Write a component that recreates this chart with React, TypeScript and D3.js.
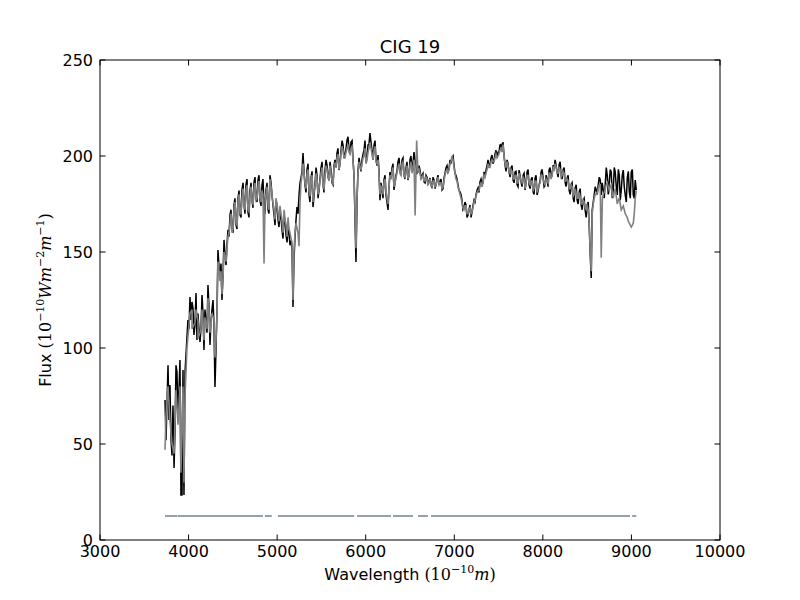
import * as d3 from "d3";

// observed spectrum (black): [wavelength, flux]
const observed: [number, number][] = [
  [3734, 72.9], [3745, 52], [3768, 91], [3779, 62.5], [3790, 80.7], [3802, 52],
  [3813, 44], [3824, 70], [3836, 37.5], [3847, 57], [3858, 91], [3869, 87.5],
  [3881, 62.5], [3903, 93.8], [3914, 23.4], [3926, 23.4], [3937, 88.5], [3948, 23.4],
  [3960, 87.5], [3982, 105.7], [3993, 114.6], [4016, 126.6], [4027, 114.6], [4050, 120.8],
  [4061, 106.8], [4084, 128.6], [4095, 104.2], [4118, 109.4], [4129, 103.1], [4152, 127.6],
  [4174, 99], [4197, 114.6], [4219, 132.8], [4242, 101.6], [4264, 119.8], [4276, 125],
  [4298, 79.7], [4321, 119.8], [4332, 151], [4355, 138], [4377, 125], [4400, 156.3],
  [4423, 143.2], [4445, 161.5], [4468, 169.3], [4490, 162.5], [4513, 174.5], [4536, 164],
  [4558, 178], [4581, 169.3], [4603, 182.3], [4626, 174.5], [4648, 185], [4671, 170.8],
  [4694, 182.3], [4716, 177], [4739, 186.5], [4761, 178], [4784, 187.5], [4806, 177],
  [4829, 185], [4852, 174.5], [4874, 182.3], [4897, 172], [4919, 190], [4942, 179.7],
  [4965, 169.3], [4987, 177], [5010, 166.7], [5032, 170.8], [5055, 161.5], [5078, 169.3],
  [5100, 158.9], [5123, 164], [5145, 153.6], [5168, 151], [5179, 121.4], [5190, 145.8],
  [5213, 166.7], [5224, 173.4], [5247, 179.7], [5269, 188.5], [5292, 201.6], [5314, 185],
  [5337, 192.7], [5360, 179.7], [5382, 188.5], [5405, 173.4], [5427, 185], [5450, 190],
  [5473, 182.3], [5495, 193.8], [5518, 185], [5540, 192.7], [5563, 195.3], [5586, 187.5],
  [5608, 192.7], [5631, 185], [5653, 198], [5676, 201.6], [5698, 192.7], [5721, 203],
  [5744, 205.7], [5766, 200.5], [5789, 208.3], [5811, 204], [5834, 207.3], [5857, 198],
  [5868, 190], [5890, 144.8], [5902, 177], [5913, 192.7], [5936, 195.3], [5958, 198],
  [5981, 203], [6003, 196.9], [6026, 205.7], [6048, 212], [6071, 203], [6094, 205.7],
  [6116, 198], [6139, 200.5], [6161, 177], [6184, 182.3], [6206, 187.5], [6229, 179.7],
  [6252, 171.9], [6274, 191.7], [6297, 193.8], [6319, 182.3], [6342, 190], [6364, 196.9],
  [6387, 192.7], [6410, 198], [6432, 190], [6455, 193.8], [6477, 187.5], [6500, 198],
  [6523, 192.7], [6545, 202], [6568, 195.3], [6590, 191.7], [6613, 192.7], [6636, 190],
  [6658, 186.5], [6681, 190], [6703, 185], [6726, 188.5], [6748, 183.3], [6771, 187.5],
  [6794, 185], [6816, 190], [6839, 186.5], [6861, 182.3], [6884, 188.5], [6906, 193.8],
  [6929, 191.7], [6952, 198], [6974, 199], [6997, 195.3], [7019, 190], [7042, 185],
  [7065, 181.3], [7087, 177], [7110, 172.9], [7132, 174.5], [7155, 169.3], [7178, 174.5],
  [7200, 170.8], [7223, 177], [7245, 179.7], [7268, 183.3], [7290, 186.5], [7313, 185],
  [7336, 191.7], [7358, 192.7], [7381, 198], [7403, 195.3], [7426, 200.5], [7449, 198],
  [7471, 203], [7494, 202], [7516, 205.7], [7539, 203], [7550, 207.3], [7573, 195.3],
  [7596, 198], [7618, 191.7], [7641, 193.8], [7664, 187.5], [7686, 191.7], [7709, 185],
  [7731, 192.7], [7754, 186.5], [7777, 190], [7799, 182.3], [7822, 191.7], [7844, 185],
  [7867, 187.5], [7890, 181.3], [7912, 188.5], [7935, 179.7], [7957, 185], [7980, 191.7],
  [8003, 188.5], [8025, 185], [8048, 187.5], [8070, 192.7], [8093, 188.5], [8116, 195.3],
  [8138, 198], [8161, 191.7], [8183, 195.3], [8206, 190], [8229, 192.7], [8251, 186.5],
  [8274, 188.5], [8296, 182.3], [8319, 185], [8342, 178], [8364, 183.3], [8387, 177],
  [8410, 181.3], [8432, 174.5], [8455, 177], [8477, 171.9], [8500, 174.5], [8523, 164],
  [8535, 148.4], [8546, 136.5], [8557, 171.9], [8580, 179.7], [8603, 182.3], [8625, 185],
  [8648, 187.5], [8659, 179.7], [8682, 182.3], [8704, 185], [8727, 190], [8750, 186.5],
  [8772, 191.7], [8795, 182.3], [8817, 191.7], [8840, 179.7], [8863, 190], [8885, 182.3],
  [8908, 192.7], [8930, 179.7], [8953, 188.5], [8976, 181.3], [8998, 191.7], [9021, 179.7],
  [9043, 187.5], [9055, 182.3],
];

// finer wiggles of the observed spectrum, read between the points above
const observedDetail: [number, number][] = [
  [4005, 110], [4038, 124], [4072, 112], [4106, 118], [4140, 110], [4163, 118],
  [4185, 120], [4208, 108], [4230, 122], [4253, 114], [4287, 112], [4310, 100],
  [4344, 142], [4366, 144], [4389, 138], [4411, 149], [4434, 154], [4456, 158],
  [4479, 172], [4502, 160], [4524, 178], [4547, 162], [4570, 182], [4592, 168],
  [4615, 186], [4637, 170], [4660, 188], [4682, 168], [4705, 186], [4728, 173],
  [4750, 189], [4773, 176], [4795, 190], [4818, 174], [4840, 188], [4863, 170],
  [4886, 186], [4908, 170], [4931, 186], [4954, 174], [4976, 164], [4999, 174],
  [5021, 163], [5044, 168], [5066, 157], [5089, 166], [5112, 155], [5134, 160],
  [5157, 156], [5202, 158], [5236, 170], [5258, 186], [5281, 192], [5303, 192],
  [5326, 181], [5349, 196], [5371, 176], [5394, 192], [5416, 179], [5439, 194],
  [5462, 178], [5484, 188], [5507, 197], [5529, 181], [5552, 198], [5575, 189],
  [5597, 197], [5620, 186], [5642, 195], [5665, 194], [5687, 204], [5710, 196],
  [5733, 208], [5755, 199], [5778, 204], [5800, 210], [5823, 201], [5846, 208],
  [5925, 199], [5947, 192], [5970, 201], [5992, 208], [6015, 199], [6037, 206],
  [6060, 207], [6082, 198], [6105, 208], [6128, 195], [6150, 192], [6173, 186],
  [6195, 178], [6218, 190], [6240, 176], [6263, 184], [6286, 188], [6308, 196],
  [6331, 186], [6353, 192], [6376, 199], [6398, 190], [6421, 199], [6444, 188],
  [6466, 197], [6489, 190], [6511, 200], [6534, 196], [6557, 198], [6579, 191],
  [6602, 195], [6625, 188], [6647, 191], [6670, 186], [6692, 189], [6715, 187],
  [6737, 185], [6760, 189], [6782, 183], [6805, 188], [6828, 185], [6850, 188],
  [6873, 183], [6895, 191], [6918, 195], [6940, 193], [6963, 196], [6986, 200],
  [7008, 191], [7031, 188], [7053, 182], [7076, 180], [7098, 172], [7121, 176],
  [7144, 168], [7166, 172], [7189, 168], [7211, 174], [7234, 176], [7256, 182],
  [7279, 181], [7302, 188], [7324, 186], [7347, 189], [7370, 195], [7392, 194],
  [7415, 199], [7437, 196], [7460, 201], [7483, 199], [7505, 202], [7528, 206],
  [7562, 200], [7584, 192], [7607, 196], [7630, 189], [7652, 195], [7675, 186],
  [7697, 192], [7720, 184], [7742, 190], [7765, 184], [7788, 191], [7810, 186],
  [7833, 193], [7856, 183], [7878, 189], [7901, 180], [7923, 190], [7946, 182],
  [7969, 187], [7991, 193], [8014, 184], [8037, 190], [8059, 184], [8082, 194],
  [8104, 190], [8127, 193], [8150, 195], [8172, 189], [8195, 197], [8217, 188],
  [8240, 194], [8262, 184], [8285, 190], [8308, 180], [8330, 186], [8353, 176],
  [8376, 185], [8398, 175], [8421, 183], [8444, 172], [8466, 178], [8489, 168],
  [8512, 176], [8569, 176], [8591, 184], [8614, 180], [8637, 189], [8670, 186],
  [8693, 178], [8716, 194], [8738, 180], [8761, 193], [8784, 178], [8806, 194],
  [8829, 184], [8852, 193], [8874, 177], [8897, 190], [8919, 184], [8942, 176],
  [8965, 192], [8987, 178], [9010, 193], [9032, 178],
];

// synthetic fit (gray): [wavelength, flux]
const model: [number, number][] = [
  [3734, 47], [3745, 65], [3768, 80], [3790, 62], [3813, 50], [3836, 45],
  [3858, 78], [3881, 60], [3903, 80], [3914, 35], [3926, 60], [3937, 80],
  [3948, 30], [3960, 75], [3982, 100], [4016, 118], [4039, 110], [4061, 112],
  [4084, 120], [4107, 105], [4129, 108], [4152, 120], [4174, 104], [4197, 112],
  [4219, 126], [4242, 108], [4264, 118], [4287, 115], [4298, 95], [4321, 118],
  [4332, 145], [4355, 135], [4377, 128], [4400, 150], [4423, 145], [4445, 158],
  [4468, 165], [4490, 160], [4513, 172], [4536, 165], [4558, 176], [4581, 170],
  [4603, 178], [4626, 174], [4648, 182], [4671, 172], [4694, 180], [4716, 176],
  [4739, 183], [4761, 177], [4784, 184], [4806, 178], [4829, 182], [4840, 180],
  [4852, 144], [4863, 176], [4874, 180], [4897, 174], [4919, 188], [4942, 180],
  [4965, 172], [4987, 178], [5010, 170], [5032, 174], [5055, 166], [5078, 172],
  [5100, 164], [5123, 168], [5145, 160], [5168, 155], [5179, 125], [5190, 150],
  [5213, 165], [5235, 160], [5247, 153], [5258, 175], [5269, 186], [5292, 196],
  [5314, 186], [5337, 190], [5360, 182], [5382, 188], [5405, 176], [5427, 184],
  [5450, 188], [5473, 183], [5495, 191], [5518, 184], [5540, 190], [5563, 193],
  [5586, 187], [5608, 191], [5631, 185], [5653, 196], [5676, 199], [5698, 193],
  [5721, 201], [5744, 203], [5766, 199], [5789, 204], [5811, 202], [5834, 204],
  [5857, 197], [5868, 190], [5890, 152], [5902, 178], [5913, 191], [5936, 194],
  [5958, 196], [5981, 200], [6003, 196], [6026, 202], [6048, 207], [6071, 201],
  [6094, 203], [6116, 197], [6139, 198], [6161, 180], [6184, 183], [6206, 186],
  [6229, 181], [6252, 175], [6274, 190], [6297, 192], [6319, 184], [6342, 189],
  [6364, 194], [6387, 191], [6410, 196], [6432, 190], [6455, 192], [6477, 188],
  [6500, 195], [6523, 191], [6545, 198], [6558, 169], [6575, 208], [6590, 192],
  [6613, 191], [6636, 189], [6658, 187], [6681, 189], [6703, 185], [6726, 188],
  [6748, 184], [6771, 187], [6794, 185], [6816, 189], [6839, 186], [6861, 183],
  [6884, 187], [6906, 192], [6929, 191], [6952, 196], [6974, 200], [6997, 194],
  [7019, 188], [7042, 184], [7065, 180], [7087, 176], [7110, 172], [7132, 174],
  [7155, 170], [7178, 173], [7200, 171], [7223, 176], [7245, 179], [7268, 182],
  [7290, 185], [7313, 184], [7336, 190], [7358, 191], [7381, 196], [7403, 194],
  [7426, 198], [7449, 197], [7471, 201], [7494, 200], [7516, 203], [7539, 202],
  [7550, 206], [7573, 196], [7596, 197], [7618, 192], [7641, 193], [7664, 188],
  [7686, 190], [7709, 186], [7731, 191], [7754, 187], [7777, 189], [7799, 183],
  [7822, 190], [7844, 186], [7867, 187], [7890, 182], [7912, 187], [7935, 181],
  [7957, 185], [7980, 190], [8003, 188], [8025, 185], [8048, 187], [8070, 191],
  [8093, 188], [8116, 194], [8138, 196], [8161, 191], [8183, 194], [8206, 189],
  [8229, 192], [8251, 187], [8274, 188], [8296, 183], [8319, 185], [8342, 179],
  [8364, 183], [8387, 178], [8410, 181], [8432, 175], [8455, 177], [8477, 173],
  [8500, 174], [8523, 165], [8535, 150], [8546, 140], [8557, 170], [8580, 178],
  [8603, 180], [8625, 183], [8648, 185], [8659, 147], [8672, 178], [8682, 180],
  [8704, 183], [8727, 186], [8750, 182], [8772, 185], [8795, 178], [8817, 183],
  [8840, 175], [8863, 178], [8885, 172], [8908, 174], [8930, 170], [8953, 168],
  [8976, 165], [8998, 163], [9021, 165], [9043, 178], [9055, 182],
];

// finer wiggles of the fit, read between the points above
const modelDetail: [number, number][] = [
  [4005, 112], [4038, 120], [4072, 113], [4106, 114], [4140, 110], [4163, 114],
  [4185, 116], [4208, 110], [4230, 120], [4253, 112], [4310, 104], [4344, 140],
  [4366, 140], [4389, 137], [4411, 148], [4434, 152], [4456, 160], [4479, 170],
  [4502, 162], [4524, 176], [4547, 164], [4570, 180], [4592, 170], [4615, 183],
  [4637, 172], [4660, 185], [4682, 171], [4705, 184], [4728, 175], [4750, 186],
  [4773, 178], [4795, 187], [4818, 176], [4886, 184], [4908, 172], [4931, 184],
  [4954, 175], [4976, 167], [4999, 175], [5021, 166], [5044, 170], [5066, 160],
  [5089, 167], [5112, 158], [5134, 162], [5157, 157], [5202, 160], [5281, 190],
  [5303, 191], [5326, 183], [5349, 193], [5371, 179], [5394, 190], [5416, 181],
  [5439, 191], [5462, 180], [5484, 187], [5507, 194], [5529, 183], [5552, 195],
  [5575, 189], [5597, 195], [5620, 187], [5642, 194], [5665, 195], [5687, 201],
  [5710, 196], [5733, 205], [5755, 199], [5778, 202], [5800, 206], [5823, 201],
  [5846, 205], [5925, 197], [5947, 193], [5970, 199], [5992, 204], [6015, 198],
  [6037, 204], [6060, 204], [6082, 198], [6105, 205], [6128, 196], [6150, 191],
  [6173, 184], [6195, 180], [6218, 188], [6240, 178], [6263, 184], [6286, 188],
  [6308, 194], [6331, 186], [6353, 191], [6376, 196], [6398, 190], [6421, 197],
  [6444, 189], [6466, 195], [6489, 190], [6511, 197], [6534, 194], [6602, 193],
  [6625, 188], [6647, 190], [6670, 187], [6692, 188], [6715, 186], [6737, 185],
  [6760, 187], [6782, 184], [6805, 187], [6828, 185], [6850, 186], [6873, 184],
  [6895, 190], [6918, 193], [6940, 193], [6963, 197], [6986, 198], [7008, 191],
  [7031, 187], [7053, 182], [7076, 178], [7098, 173], [7121, 174], [7144, 170],
  [7166, 172], [7189, 170], [7211, 173], [7234, 177], [7256, 181], [7279, 182],
  [7302, 186], [7324, 186], [7347, 189], [7370, 193], [7392, 194], [7415, 197],
  [7437, 197], [7460, 199], [7483, 199], [7505, 201], [7528, 204], [7562, 200],
  [7584, 194], [7607, 195], [7630, 191], [7652, 192], [7675, 188], [7697, 190],
  [7720, 186], [7742, 189], [7765, 186], [7788, 188], [7810, 186], [7833, 190],
  [7856, 185], [7878, 187], [7901, 183], [7923, 187], [7946, 183], [7969, 186],
  [7991, 190], [8014, 186], [8037, 188], [8059, 186], [8082, 191], [8104, 190],
  [8127, 193], [8150, 194], [8172, 191], [8195, 193], [8217, 190], [8240, 191],
  [8262, 187], [8285, 187], [8308, 183], [8330, 184], [8353, 180], [8376, 181],
  [8398, 178], [8421, 179], [8444, 175], [8466, 176], [8489, 172], [8512, 172],
  [8569, 175], [8591, 180], [8614, 181], [8637, 185], [8693, 181], [8716, 185],
  [8738, 184], [8761, 184], [8784, 181], [8806, 181], [8829, 179], [8852, 177],
  [8874, 175], [8897, 173], [8919, 172], [8942, 169], [8965, 166], [8987, 164],
  [9010, 164], [9032, 170],
];

// wavelength ranges used in the fit (masked lines left out)
const maskRanges: [number, number][] = [
  [3734, 3870], [3875, 4840], [4862, 4940], [5008, 5870], [5902, 6286],
  [6308, 6533], [6590, 6703], [6737, 8985], [9008, 9055],
];
const maskLevel = 12.5;

const xTicks = [3000, 4000, 5000, 6000, 7000, 8000, 9000, 10000];
const yTicks = [0, 50, 100, 150, 200, 250];

const W = 800;
const H = 600;
const left = 100;
const right = 720;
const top = 60;
const bottom = 540;
const tick = 5.5;
const sans = "'DejaVu Sans', sans-serif";
const serif = "'DejaVu Serif', serif";

const byWavelength = (a: [number, number], b: [number, number]) => a[0] - b[0];

export default function App() {
  const x = d3.scaleLinear().domain([3000, 10000]).range([left, right]);
  const y = d3.scaleLinear().domain([0, 250]).range([bottom, top]);
  const line = d3
    .line<[number, number]>()
    .x((d) => x(d[0]))
    .y((d) => y(d[1]));

  const observedAll = [...observed, ...observedDetail].sort(byWavelength);
  const modelAll = [...model, ...modelDetail].sort(byWavelength);

  return (
    <svg
      width={W}
      height={H}
      style={{ position: "absolute", left: 0, top: 0, background: "#fff" }}
    >
      <rect x={0} y={0} width={W} height={H} fill="#fff" />
      <path d={line(observedAll) ?? ""} fill="none" stroke="#000" strokeWidth={1.5} />
      <path d={line(modelAll) ?? ""} fill="none" stroke="#808080" strokeWidth={1.6} />
      {maskRanges.map((r, i) => (
        <path
          key={i}
          d={line([[r[0], maskLevel], [r[1], maskLevel]]) ?? ""}
          stroke="#708090"
          strokeWidth={1.5}
          fill="none"
        />
      ))}

      {/* frame */}
      <rect x={left} y={top} width={right - left} height={bottom - top} fill="none" stroke="#000" strokeWidth={1} />

      {/* x ticks */}
      {xTicks.map((t) => (
        <g key={t}>
          <line x1={x(t)} x2={x(t)} y1={bottom} y2={bottom - tick} stroke="#000" />
          <line x1={x(t)} x2={x(t)} y1={top} y2={top + tick} stroke="#000" />
          <text x={x(t)} y={bottom + 17} textAnchor="middle" fontFamily={sans} fontSize={16}>
            {t}
          </text>
        </g>
      ))}
      {/* y ticks */}
      {yTicks.map((t) => (
        <g key={t}>
          <line x1={left} x2={left + tick} y1={y(t)} y2={y(t)} stroke="#000" />
          <line x1={right} x2={right - tick} y1={y(t)} y2={y(t)} stroke="#000" />
          <text x={left - 7} y={y(t) + 6} textAnchor="end" fontFamily={sans} fontSize={16}>
            {t}
          </text>
        </g>
      ))}

      <text x={(left + right) / 2} y={53} textAnchor="middle" fontFamily={sans} fontSize={18}>
        CIG 19
      </text>

      <text x={(left + right) / 2} y={580} textAnchor="middle" fontFamily={sans} fontSize={16}>
        Wavelength{" "}
        <tspan fontFamily={serif}>(10</tspan>
        <tspan fontFamily={serif} fontSize={11} dy={-7}>−10</tspan>
        <tspan fontFamily={serif} fontStyle="italic" dy={7}>m</tspan>
        <tspan fontFamily={serif}>)</tspan>
      </text>

      <text
        transform={`translate(51,${(top + bottom) / 2}) rotate(-90)`}
        textAnchor="middle"
        fontFamily={sans}
        fontSize={16}
      >
        Flux{" "}
        <tspan fontFamily={serif}>(10</tspan>
        <tspan fontFamily={serif} fontSize={11} dy={-7}>−10</tspan>
        <tspan fontFamily={serif} fontStyle="italic" dy={7}>Wm</tspan>
        <tspan fontFamily={serif} fontSize={11} dy={-7}>−2</tspan>
        <tspan fontFamily={serif} fontStyle="italic" dy={7}>m</tspan>
        <tspan fontFamily={serif} fontSize={11} dy={-7}>−1</tspan>
        <tspan fontFamily={serif} dy={7}>)</tspan>
      </text>
    </svg>
  );
}
